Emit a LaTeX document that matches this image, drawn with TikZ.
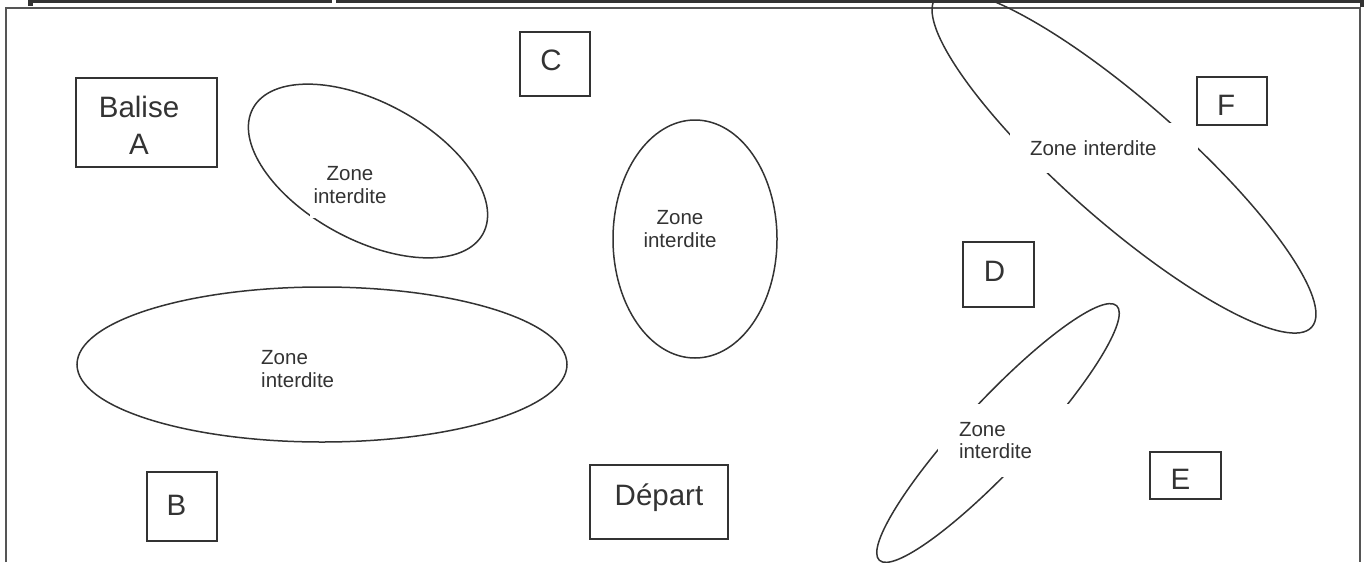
\documentclass[tikz,border=0pt]{standalone}
\usepackage{fontspec}
\setmainfont{Liberation Sans}
\definecolor{ink}{HTML}{333333}
\definecolor{rule}{HTML}{555555}
\begin{document}
\begin{tikzpicture}[x=1pt,y=-1pt,
  zone/.style={draw=ink, line width=1.5pt},
  tagbox/.style={draw=ink, line width=1.6pt, fill=none, inner sep=0pt},
  bigtxt/.style={text=ink, inner sep=0pt, anchor=base, align=center,
    font=\fontsize{29.5}{37}\selectfont},
  zonetxt/.style={text=ink, fill=white, font=\fontsize{20.5}{22.7}\selectfont}]

\useasboundingbox (0,0) rectangle (1370,562);
\clip (0,0) rectangle (1370,562);

% outer frame of the field
\draw[rule, line width=2pt] (6,562) -- (6,8) -- (1360,8) -- (1360,562);

% forbidden zones
\draw[zone, rotate around={-28.6:(368,171)}] (368,171) ellipse [x radius=131, y radius=68.5];
\draw[zone] (695,239) ellipse [x radius=82, y radius=119];
\draw[zone] (322,364.5) ellipse [x radius=245, y radius=77.5];
\draw[zone, rotate around={-41.3:(1124,162)}] (1124,162) ellipse [x radius=250, y radius=60];
\draw[zone, rotate around={47:(998,433)}] (998,433) ellipse [x radius=174, y radius=34];

% zone captions
\node[zonetxt, align=center, inner xsep=4pt, inner ysep=14pt] (z1) at (350,185) {Zone\\interdite};
\node[zonetxt, align=center, inner sep=2pt] (z2) at (680,229) {Zone\\interdite};
\node[zonetxt, align=left, inner sep=2pt, anchor=north west] (z3) at (259,348) {Zone\\interdite};
\node[zonetxt, minimum width=188pt, minimum height=50pt, text width=148pt, align=left] (z4) at (1104,148) {Zone interdite};
\node[zonetxt, minimum width=137pt, minimum height=73pt, text width=95pt, align=left] (z5) at (1006.5,440.5) {Zone\\interdite};

% beacons
\node[tagbox, minimum width=141pt, minimum height=89pt] (balA) at (146.5,122.5) {};
\node[bigtxt] (balAtxt) at (139,154) {Balise\\A};
\node[tagbox, minimum width=70pt, minimum height=64pt] (balC) at (555,64) {};
\node[bigtxt] (balCtxt) at (551,70) {C};
\node[tagbox, minimum width=70pt, minimum height=48pt] (balF) at (1232,101) {};
\node[bigtxt] (balFtxt) at (1226,115) {F};
\node[tagbox, minimum width=71pt, minimum height=65pt] (balD) at (998.5,274.5) {};
\node[bigtxt] (balDtxt) at (994.5,281) {D};
\node[tagbox, minimum width=71pt, minimum height=47pt] (balE) at (1185.5,475.5) {};
\node[bigtxt] (balEtxt) at (1180.5,489) {E};
\node[tagbox, minimum width=70pt, minimum height=69pt] (balB) at (182,506.5) {};
\node[bigtxt] (balBtxt) at (176.5,515) {B};
\node[tagbox, minimum width=138pt, minimum height=74pt] (start) at (659,502) {};
\node[bigtxt] (starttxt) at (659,505) {Départ};

% table rule along the top edge
\fill[ink] (28,0) rectangle (332,3.3);
\fill[ink] (336,0) rectangle (1364,3.3);
\fill[ink] (28,0) rectangle (33,6);
\fill[ink] (1360,0) rectangle (1364,7);
\end{tikzpicture}
\end{document}
